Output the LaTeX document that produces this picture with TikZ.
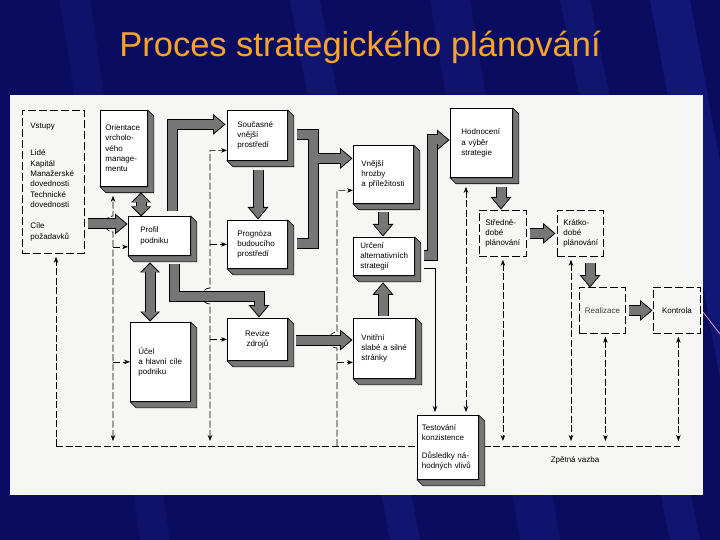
\documentclass[tikz,border=0pt]{standalone}
\usepackage{fontspec}
\setmainfont{Liberation Sans}
\usetikzlibrary{arrows.meta}

\definecolor{slide}{RGB}{10,12,96}
\definecolor{streak}{RGB}{45,65,190}
\definecolor{paper}{RGB}{246,246,244}
\definecolor{titleorange}{RGB}{250,163,42}
\definecolor{stipple}{RGB}{118,118,118}
\definecolor{pinkline}{RGB}{225,150,200}

\newcommand{\boxfont}{\fontsize{8}{10.3}\selectfont}

\tikzset{
  box/.style={draw, line width=0.8pt, fill=white, anchor=north west, align=left, inner ysep=0pt, font=\boxfont},
  plan/.style={draw, line width=0.8pt, dash pattern=on 8pt off 3pt, anchor=north west, align=left, inner ysep=0pt, font=\boxfont},
  depth/.style={draw, line width=0.6pt, fill=stipple},
  fb/.style={line width=0.7pt, dash pattern=on 7pt off 2.5pt},
  fat/.style={line width=9pt, draw=stipple, line join=miter,
    -{Triangle[width=17pt,length=10pt,line width=0pt]},
    preaction={draw=black, line width=11pt, shorten >=-1.5pt,
      -{Triangle[width=21pt,length=12.5pt,line width=0pt]}}},
  fatboth/.style={line width=9pt, draw=stipple,
    {Triangle[width=16pt,length=8pt,line width=0pt]}-{Triangle[width=16pt,length=8pt,line width=0pt]},
    preaction={draw=black, line width=11pt, shorten >=-1.5pt, shorten <=-1.5pt,
      {Triangle[width=20pt,length=10pt,line width=0pt]}-{Triangle[width=20pt,length=10pt,line width=0pt]}}}
}

\begin{document}
\begin{tikzpicture}[x=1pt,y=-1pt,>={Stealth[length=6pt,width=4.5pt]}]
\useasboundingbox (0,0) rectangle (720,540);

% slide background
\fill[slide] (0,0) rectangle (720,540);
\begin{scope}
\clip (0,0) rectangle (720,540);
\fill[streak,opacity=0.18] (290,0) -- (320,0) -- (420,540) -- (390,540) -- cycle;
\fill[streak,opacity=0.15] (430,0) -- (470,0) -- (560,540) -- (520,540) -- cycle;
\fill[streak,opacity=0.18] (560,0) -- (590,0) -- (700,540) -- (670,540) -- cycle;
\fill[streak,opacity=0.22] (650,0) -- (690,0) -- (790,540) -- (750,540) -- cycle;
\fill[streak,opacity=0.12] (60,0) -- (90,0) -- (170,540) -- (140,540) -- cycle;
\end{scope}
\draw[pinkline, line width=0.8pt] (703,312) -- (720,334);
\fill[paper] (10,95) rectangle (703,495);

% title
\node[font=\fontsize{34.5}{40}\selectfont, text=titleorange] (title) at (360,47) {Proces strategického plánování};

% feedback columns
\coordinate (k1) at (56,446);
\coordinate (k2) at (113,446);
\coordinate (k3) at (210,446);
\coordinate (k4) at (337,446);
\coordinate (kend) at (680,446);
\coordinate (a1) at (88,224);
\coordinate (a5) at (259,296);
\coordinate (a7) at (313,243);
\coordinate (a10) at (296,340);
\coordinate (a11) at (432,140);

% feedback line
\draw[fb] (k1) -- (kend);
\node[font=\boxfont] (zv) at (575,460) {Zpětná vazba};

% boxes
\node[plan, text width=46pt, inner xsep=8pt, minimum height=143pt] (vstupy) at (22,110) {Vstupy\\[17pt]Lidé\\Kapitál\\Manažerské\\dovednosti\\Technické\\dovednosti\\[11pt]Cíle\\požadavků};
\node[box, text width=37pt, inner xsep=5pt, minimum height=76pt] (orient) at (100,110) {Orientace\\vrcholo-\\vého\\manage-\\mentu};
\node[box, text width=38pt, inner xsep=12pt, minimum height=39pt] (prof) at (128,216) {Profil\\podniku};
\node[box, text width=44pt, inner xsep=8pt, minimum height=79pt] (ucel) at (130,322) {Účel\\a hlavní cíle\\podniku};
\node[box, text width=40pt, inner xsep=10pt, minimum height=50pt] (soucas) at (227,110) {Současné\\vnější\\prostředí};
\node[box, text width=40pt, inner xsep=10pt, minimum height=48pt] (progn) at (227,220) {Prognóza\\budoucího\\prostředí};
\node[box, text width=40pt, inner xsep=10pt, minimum height=42pt, align=center] (revize) at (227,318) {Revize\\zdrojů};
\node[box, text width=44pt, inner xsep=8pt, minimum height=58pt] (vnejsi) at (353,145) {Vnější\\hrozby\\a příležitosti};
\node[box, text width=47pt, inner xsep=7pt, minimum height=38pt] (urceni) at (353,237) {Určení\\alternativních\\strategií};
\node[box, text width=46pt, inner xsep=8pt, minimum height=60pt] (vnitr) at (353,318) {Vnitřní\\slabé a silné\\stránky};
\node[box, text width=40pt, inner xsep=11pt, minimum height=69pt] (hodn) at (450,108) {Hodnocení\\a výběr\\strategie};
\node[box, text width=52pt, inner xsep=4.5pt, minimum height=64pt] (test) at (417,415) {Testování\\konzistence\\[7pt]\mbox{Důsledky ná-}\\\mbox{hodných vlivů}};
\node[plan, text width=35pt, inner xsep=6pt, minimum height=46pt] (stred) at (479,210) {Středně-\\dobé\\plánování};
\node[plan, text width=34pt, inner xsep=6pt, minimum height=46pt] (krat) at (557,210) {Krátko-\\dobé\\plánování};
\node[plan, text width=38pt, inner xsep=4pt, minimum height=46pt, align=center, text=black!75] (real) at (579,287) {Realizace};
\node[plan, text width=39pt, inner xsep=4pt, minimum height=46pt, align=center] (kontr) at (653,287) {Kontrola};

\foreach \n in {orient,prof,soucas,progn,revize,ucel,vnejsi,urceni,vnitr,hodn,test}
  \draw[depth] (\n.south west) -- ++(6,6) -- ([xshift=6pt,yshift=-6pt]\n.south east) -- ([xshift=6pt,yshift=-6pt]\n.north east) -- (\n.north east) -- (\n.south east) -- cycle;

% feedback branches
\draw[fb,->] (k1) -- ([yshift=-3pt]vstupy.south -| k1);
\draw[fb,<->] ([yshift=5pt]k2) -- ([yshift=-8pt]a1 -| k2) arc[start angle=90,end angle=270,radius=8] -- ([yshift=-9pt]orient.south -| k2);
\draw[fb,->] ([yshift=-11pt]prof.west -| k2) -- ([yshift=-11pt]prof.west);
\draw[fb,->] (ucel.west -| k2) -- (ucel.west);
\draw[fb,<->] ([yshift=5pt]k3) -- ([yshift=-8pt]a5 -| k3) arc[start angle=90,end angle=270,radius=8] |- ([yshift=-15pt]soucas.west);
\draw[fb,->] (progn.west -| k3) -- (progn.west);
\draw[fb,->] (revize.west -| k3) -- (revize.west);
\draw[fb,->] (k4) -- ([yshift=-8pt]a10 -| k4) arc[start angle=90,end angle=270,radius=8] |- ([yshift=-16pt]vnejsi.west);
\draw[fb,->] ([yshift=-14pt]vnitr.west -| k4) -- ([yshift=-14pt]vnitr.west);
\draw[line width=0.7pt,->] ([xshift=9pt,yshift=-12pt]urceni.east) -| ([xshift=18pt,yshift=3pt]test.north west);
\draw[fb,<->] ([xshift=16pt,yshift=-9pt]hodn.south west) -- ([xshift=49pt,yshift=3pt]test.north west);
\draw[fb,<->] ([yshift=-3pt]stred.south) -- ([yshift=5pt]stred.south |- k1);
\draw[fb,<->] ([xshift=14pt,yshift=-3pt]krat.south west) -- ([xshift=14pt,yshift=5pt]krat.south west |- k1);
\draw[fb,<->] ([xshift=3pt,yshift=-3pt]real.south) -- ([xshift=3pt,yshift=5pt]real.south |- k1);
\draw[fb,<->] ([xshift=1.5pt,yshift=-3pt]kontr.south) -- ([xshift=1.5pt,yshift=5pt]kontr.south |- k1);

% main flow
\draw[fat] (a1) -- ([xshift=-2pt]prof.west |- a1);
\draw[fatboth] ([xshift=41pt,yshift=-7pt]orient.south west) -- ([xshift=13pt,yshift=1pt]prof.north west);
\draw[fatboth] ([xshift=22pt,yshift=-8pt]prof.south west) -- ([xshift=20pt,yshift=2pt]ucel.north west);
\draw[fat] ([xshift=44pt,yshift=5pt]prof.north west) |- ([xshift=-3pt,yshift=11pt]soucas.west);
\draw[fat] ([xshift=46pt,yshift=-8pt]prof.south west) |- (a5) -- ([xshift=32pt,yshift=2pt]revize.north west);
\draw[fat] ([xshift=31pt,yshift=-9pt]soucas.south west) -- ([xshift=31pt,yshift=2pt]progn.north west);
\draw[fat] ([xshift=9pt,yshift=1pt]soucas.east) -| (a7) -- ([xshift=9pt]progn.east |- a7) ([yshift=16pt]vnejsi.west -| a7) -- ([xshift=-2pt,yshift=16pt]vnejsi.west);
\draw[fat] ([xshift=30pt,yshift=-8pt]vnejsi.south west) -- ([xshift=30pt,yshift=2pt]urceni.north west);
\draw[fat] ([xshift=30pt,yshift=2pt]vnitr.north west) -- ([xshift=30pt,yshift=-8pt]urceni.south west);
\draw[fat] (a10) -- ([xshift=-2pt]vnitr.west |- a10);
\draw[fat] ([xshift=9pt,yshift=1pt]urceni.east) -| (a11) -- ([xshift=-2pt]hodn.west |- a11);
\draw[fat] ([xshift=51pt,yshift=-9pt]hodn.south west) -- ([xshift=22pt,yshift=2pt]stred.north west);
\draw[fat] ([xshift=3pt]stred.east) -- ([xshift=-3pt]krat.west);
\draw[fat] ([xshift=33pt,yshift=-6pt]krat.south west) -- ([xshift=11pt,yshift=1pt]real.north west);
\draw[fat] ([xshift=3pt]real.east) -- ([xshift=-2pt]kontr.west);

\end{tikzpicture}
\end{document}
